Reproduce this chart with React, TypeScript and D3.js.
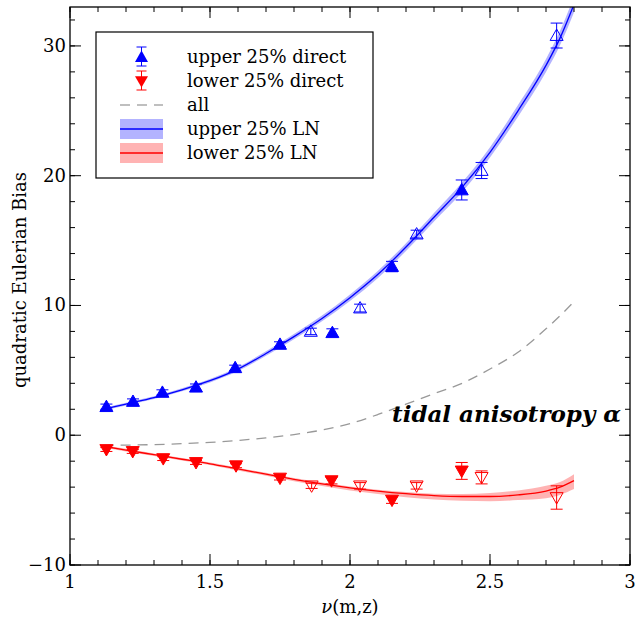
import React from "react";
import * as d3 from "d3";

// ---- data ----
const upperX = [1.13, 1.225, 1.33, 1.45, 1.59, 1.75, 1.86, 1.937, 2.036, 2.15, 2.238, 2.399, 2.47, 2.738];
const upperY = [2.2, 2.6, 3.3, 3.7, 5.2, 7.0, 8.0, 7.9, 9.8, 13.0, 15.5, 18.9, 20.4, 30.8];
const upperErr = [0.2, 0.2, 0.2, 0.25, 0.2, 0.2, 0.25, 0.3, 0.3, 0.4, 0.3, 0.77, 0.62, 0.96];
const upperOpen = [false, false, false, false, false, false, true, false, true, false, true, false, true, true];

const lowerX = [1.13, 1.224, 1.333, 1.45, 1.593, 1.75, 1.863, 1.934, 2.036, 2.15, 2.238, 2.399, 2.47, 2.738];
const lowerY = [-1.1, -1.25, -1.8, -2.1, -2.35, -3.3, -3.9, -3.5, -3.9, -5.0, -3.9, -2.75, -3.25, -4.8];
const lowerErr = [0.15, 0.15, 0.15, 0.15, 0.15, 0.15, 0.2, 0.25, 0.25, 0.25, 0.25, 0.65, 0.5, 0.9];
const lowerOpen = [false, false, false, false, false, false, true, false, true, false, true, false, true, true];

const lnX = [1.12, 1.2, 1.3, 1.4, 1.5, 1.6, 1.7, 1.8, 1.9, 2.0, 2.1, 2.2, 2.3, 2.4, 2.5, 2.6, 2.7, 2.75, 2.8];
const upperLN = [2.0, 2.4, 2.9, 3.5, 4.2, 5.1, 6.3, 7.6, 9.0, 10.6, 12.4, 14.5, 16.8, 19.1, 21.8, 25.0, 28.5, 30.6, 33.2];
const upperLNerr = [0.1, 0.1, 0.1, 0.12, 0.13, 0.15, 0.17, 0.2, 0.22, 0.25, 0.28, 0.3, 0.33, 0.37, 0.4, 0.45, 0.5, 0.55, 0.6];
const lowerLN = [-0.85, -1.15, -1.5, -1.85, -2.2, -2.6, -3.0, -3.4, -3.75, -4.05, -4.3, -4.5, -4.65, -4.72, -4.72, -4.6, -4.3, -4.0, -3.5];
const lowerLNlo = [-0.95, -1.25, -1.6, -1.95, -2.3, -2.72, -3.12, -3.55, -3.92, -4.25, -4.52, -4.78, -4.95, -5.05, -5.08, -5.0, -4.85, -4.6, -4.15];
const lowerLNhi = [-0.75, -1.05, -1.4, -1.75, -2.1, -2.5, -2.9, -3.3, -3.65, -3.95, -4.2, -4.38, -4.5, -4.52, -4.45, -4.25, -3.9, -3.6, -3.0];
const allLN = [-0.78, -0.76, -0.72, -0.65, -0.55, -0.4, -0.2, 0.05, 0.4, 0.9, 1.6, 2.4, 3.2, 4.0, 5.1, 6.4, 8.2, 9.2, 10.3];

const xTicks = [1, 1.5, 2, 2.5, 3];
const xTickLabels = ["1", "1.5", "2", "2.5", "3"];
const yTicks = [-10, 0, 10, 20, 30];
const yTickLabels = ["\u221210", "0", "10", "20", "30"];
const legendLabels = ["upper 25% direct", "lower 25% direct", "all", "upper 25% LN", "lower 25% LN"];

const W = 635, H = 625;
const M = { left: 70, right: 5, top: 7, bottom: 60 };
const FONT = "'DejaVu Serif', serif";

const BLUE = "#0000ff", RED = "#ff0000";

export default function App() {
  const x = d3.scaleLinear().domain([1, 3]).range([M.left, W - M.right]);
  const y = d3.scaleLinear().domain([-10, 33]).range([H - M.bottom, M.top]);
  const x0 = M.left, x1 = W - M.right, y0 = H - M.bottom, y1 = M.top;

  const upLine = d3.line<number>().x((_, i) => x(lnX[i])).y((d) => y(d)).curve(d3.curveMonotoneX)(upperLN) || "";
  const upBand = d3.area<number>().x((_, i) => x(lnX[i])).y0((d, i) => y(d - upperLNerr[i])).y1((d, i) => y(d + upperLNerr[i])).curve(d3.curveMonotoneX)(upperLN) || "";
  const loLine = d3.line<number>().x((_, i) => x(lnX[i])).y((d) => y(d)).curve(d3.curveMonotoneX)(lowerLN) || "";
  const loBand = d3.area<number>().x((_, i) => x(lnX[i])).y0((_, i) => y(lowerLNlo[i])).y1((_, i) => y(lowerLNhi[i])).curve(d3.curveMonotoneX)(lowerLN) || "";
  const allLine = d3.line<number>().x((_, i) => x(lnX[i])).y((d) => y(d)).curve(d3.curveMonotoneX)(allLN) || "";

  const xMinor = d3.range(1, 3.0001, 0.1);
  const yMinor = d3.range(-10, 33, 2);

  const ts = 6.5; // triangle half size
  const triUp = (cx: number, cy: number) => `M${cx},${cy - ts} L${cx + ts},${cy + ts * 0.75} L${cx - ts},${cy + ts * 0.75} Z`;
  const triDown = (cx: number, cy: number) => `M${cx},${cy + ts} L${cx + ts},${cy - ts * 0.75} L${cx - ts},${cy - ts * 0.75} Z`;

  const drawPoints = (xs: number[], ys: number[], es: number[], open: boolean[], color: string, up: boolean) =>
    xs.map((xv, i) => {
      const cx = x(xv), cy = y(ys[i]);
      const ya = y(ys[i] + es[i]), yb = y(ys[i] - es[i]);
      return (
        <g key={i}>
          <line x1={cx} x2={cx} y1={ya} y2={yb} stroke={color} strokeWidth={1} />
          <line x1={cx - 6} x2={cx + 6} y1={ya} y2={ya} stroke={color} strokeWidth={1} />
          <line x1={cx - 6} x2={cx + 6} y1={yb} y2={yb} stroke={color} strokeWidth={1} />
          <path d={up ? triUp(cx, cy) : triDown(cx, cy)} fill={open[i] ? "none" : color} stroke={color} strokeWidth={1} />
        </g>
      );
    });

  const lg = { x: 96, y: 32, w: 277, h: 146 };
  const rowY = (i: number) => lg.y + 25 + i * 24;
  const symX = 141.5, lineX0 = 120, lineX1 = 163, textX = 187;

  return (
    <svg width={W} height={H} style={{ position: "absolute", left: 0, top: 0, background: "#fff" }} fontFamily={FONT}>
      <defs>
        <clipPath id="plot">
          <rect x={x0} y={y1} width={x1 - x0} height={y0 - y1} />
        </clipPath>
      </defs>
      <g clipPath="url(#plot)">
        <path d={upBand} fill="#b3b3ff" />
        <path d={loBand} fill="#ffb3b3" />
        <path d={allLine} fill="none" stroke="#999" strokeWidth={1.3} strokeDasharray="10,7" />
        <path d={upLine} fill="none" stroke={BLUE} strokeWidth={1.3} />
        <path d={loLine} fill="none" stroke={RED} strokeWidth={1.3} />
        {drawPoints(upperX, upperY, upperErr, upperOpen, BLUE, true)}
        {drawPoints(lowerX, lowerY, lowerErr, lowerOpen, RED, false)}
      </g>

      {/* frame */}
      <rect x={x0} y={y1} width={x1 - x0} height={y0 - y1} fill="none" stroke="#000" strokeWidth={1.3} />
      {/* x ticks */}
      {xMinor.map((v, i) => (
        <g key={"xm" + i}>
          <line x1={x(v)} x2={x(v)} y1={y0} y2={y0 - 5} stroke="#000" />
          <line x1={x(v)} x2={x(v)} y1={y1} y2={y1 + 5} stroke="#000" />
        </g>
      ))}
      {xTicks.map((v, i) => (
        <g key={"xt" + i}>
          <line x1={x(v)} x2={x(v)} y1={y0} y2={y0 - 11} stroke="#000" />
          <line x1={x(v)} x2={x(v)} y1={y1} y2={y1 + 11} stroke="#000" />
          <text x={x(v)} y={y0 + 23} textAnchor="middle" fontSize={18}>{xTickLabels[i]}</text>
        </g>
      ))}
      {yMinor.map((v, i) => (
        <g key={"ym" + i}>
          <line x1={x0} x2={x0 + 5} y1={y(v)} y2={y(v)} stroke="#000" />
          <line x1={x1} x2={x1 - 5} y1={y(v)} y2={y(v)} stroke="#000" />
        </g>
      ))}
      {yTicks.map((v, i) => (
        <g key={"yt" + i}>
          <line x1={x0} x2={x0 + 11} y1={y(v)} y2={y(v)} stroke="#000" />
          <line x1={x1} x2={x1 - 11} y1={y(v)} y2={y(v)} stroke="#000" />
          <text x={x0 - 4} y={y(v) + 6} textAnchor="end" fontSize={18}>{yTickLabels[i]}</text>
        </g>
      ))}
      <text x={350} y={613} textAnchor="middle" fontSize={18}>
        <tspan fontStyle="italic">ν</tspan>(m,z)
      </text>
      <text transform={`translate(26,280) rotate(-90)`} textAnchor="middle" fontSize={18}>quadratic Eulerian Bias</text>

      <text x={621} y={422} textAnchor="end" fontSize={23} fontWeight="bold" fontStyle="italic">tidal anisotropy α</text>

      {/* legend */}
      <rect x={lg.x} y={lg.y} width={lg.w} height={lg.h} fill="#fff" stroke="#000" strokeWidth={1.2} />
      <g>
        <line x1={symX} x2={symX} y1={rowY(0) - 10} y2={rowY(0) + 9} stroke={BLUE} />
        <line x1={symX - 5} x2={symX + 5} y1={rowY(0) - 10} y2={rowY(0) - 10} stroke={BLUE} />
        <line x1={symX - 5} x2={symX + 5} y1={rowY(0) + 9} y2={rowY(0) + 9} stroke={BLUE} />
        <path d={triUp(symX, rowY(0))} fill={BLUE} />
        <line x1={symX} x2={symX} y1={rowY(1) - 10} y2={rowY(1) + 9} stroke={RED} />
        <line x1={symX - 5} x2={symX + 5} y1={rowY(1) - 10} y2={rowY(1) - 10} stroke={RED} />
        <line x1={symX - 5} x2={symX + 5} y1={rowY(1) + 9} y2={rowY(1) + 9} stroke={RED} />
        <path d={triDown(symX, rowY(1))} fill={RED} />
        <line x1={lineX0} x2={lineX1} y1={rowY(2)} y2={rowY(2)} stroke="#aaa" strokeWidth={1.3} strokeDasharray="10,7" />
        <rect x={lineX0} y={rowY(3) - 10} width={lineX1 - lineX0} height={20} fill="#b3b3ff" />
        <line x1={lineX0} x2={lineX1} y1={rowY(3)} y2={rowY(3)} stroke={BLUE} strokeWidth={1.3} />
        <rect x={lineX0} y={rowY(4) - 10} width={lineX1 - lineX0} height={20} fill="#ffb3b3" />
        <line x1={lineX0} x2={lineX1} y1={rowY(4)} y2={rowY(4)} stroke={RED} strokeWidth={1.3} />
        {legendLabels.map((t, i) => (
          <text key={t} x={textX} y={rowY(i) + 6} fontSize={18}>{t}</text>
        ))}
      </g>
    </svg>
  );
}
